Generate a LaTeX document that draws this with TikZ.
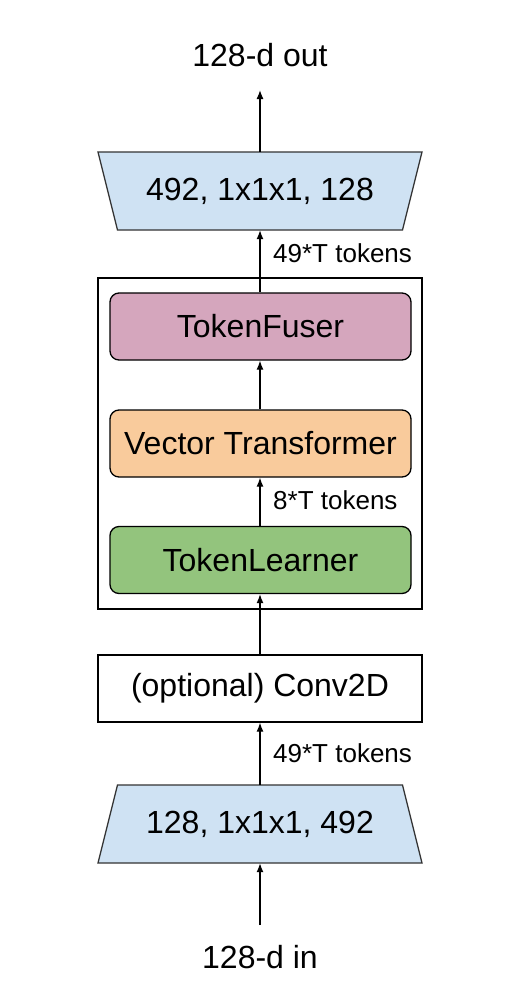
\documentclass[tikz,border=0pt]{standalone}
\usepackage{fontspec}
\setmainfont{Liberation Sans}
\usetikzlibrary{arrows.meta}
\definecolor{encblue}{HTML}{CFE2F3}
\definecolor{fuserpink}{HTML}{D5A6BD}
\definecolor{vtorange}{HTML}{F9CB9C}
\definecolor{tlgreen}{HTML}{93C47D}
\begin{document}
\begin{tikzpicture}[x=1pt,y=-1pt,
  lw/.style={line width=1.3pt},
  arr/.style={lw,-{Latex[length=9pt,width=7pt]}},
  bigtxt/.style={font=\fontsize{32}{36}\selectfont},
  smalltxt/.style={font=\fontsize{26}{30}\selectfont},
  rbox/.style={draw=black,lw,rounded corners=9pt,minimum width=301pt,minimum height=67pt,inner sep=0pt,bigtxt},
  sqbox/.style={draw=black,lw,minimum width=324pt,minimum height=67pt,inner sep=0pt,bigtxt},
  trap/.style={draw=black!80,lw,fill=encblue},
  lbl/.style={smalltxt,anchor=west,inner sep=0pt}]
\useasboundingbox (0,0) rectangle (523,991);
% output label
\node[bigtxt,inner sep=0pt] (out) at (260,55) {128-d out};
\coordinate (outtip) at (260,90);
% top trapezoid
\draw[trap] (98,152) -- (422,152) -- (402.5,230) -- (117.5,230) -- cycle;
\node[bigtxt,inner sep=0pt,minimum width=285pt,minimum height=78pt] (dec) at (260,191) {492, 1x1x1, 128};
% outer box
\node[draw=black,lw,minimum width=324pt,minimum height=331pt,inner sep=0pt] (outer) at (260,443.5) {};
\node[rbox,fill=fuserpink] (tf) at (260.5,326.5) {TokenFuser};
\node[rbox,fill=vtorange] (vt) at (260.5,443.5) {Vector Transformer};
\node[rbox,fill=tlgreen] (tl) at (260.5,560) {TokenLearner};
% conv
\node[sqbox] (conv) at (260,688.5) {(optional) Conv2D};
% bottom trapezoid
\draw[trap] (117.5,785) -- (402.5,785) -- (422,863) -- (98,863) -- cycle;
\node[bigtxt,inner sep=0pt,minimum width=285pt,minimum height=78pt] (enc) at (260,824) {128, 1x1x1, 492};
% input label
\node[bigtxt,inner sep=0pt] (in) at (260,957) {128-d in};
\coordinate (instart) at (260,925);
% arrows
\draw[arr] (instart) -- (enc.south);
\draw[arr] (enc.north) -- (conv.south);
\draw[arr] (conv.north) -- (tl.south -| conv.north);
\draw[arr] (tl.north -| conv.north) -- (vt.south -| conv.north);
\draw[arr] (vt.north -| conv.north) -- (tf.south -| conv.north);
\draw[arr] (tf.north -| conv.north) -- (dec.south);
\draw[arr] (dec.north) -- (outtip);
% labels
\node[lbl] (l1) at (273,753) {49*T tokens};
\node[lbl] (l2) at (273,500) {8*T tokens};
\node[lbl] (l3) at (273,253) {49*T tokens};
\end{tikzpicture}
\end{document}
